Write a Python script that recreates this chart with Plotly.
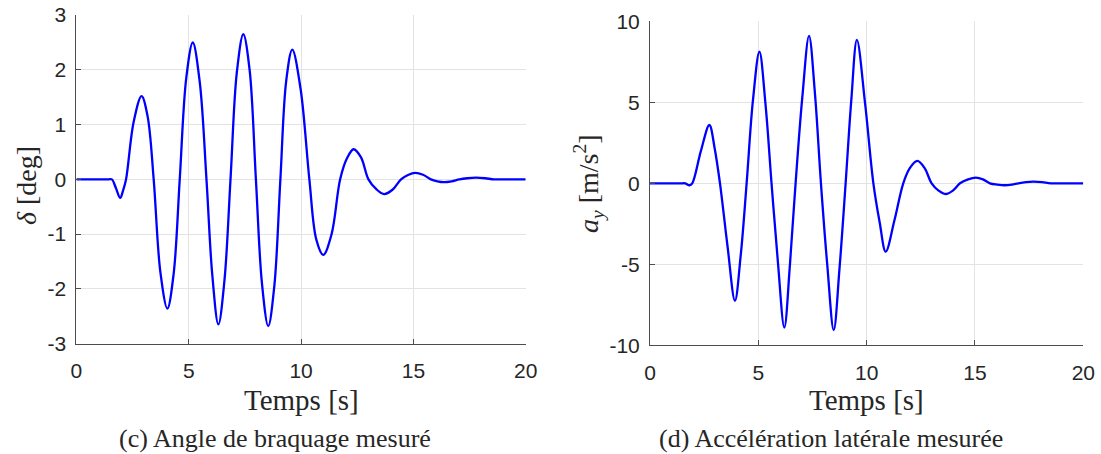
import plotly.graph_objects as go

# ---- data ----
t_delta = [0, 1.0, 1.3, 1.45, 1.58, 1.75, 1.95, 2.08, 2.21,
           2.55, 2.90, 3.17, 3.44,
           3.74, 4.05, 4.33, 4.60,
           4.89, 5.18, 5.49, 5.79,
           6.05, 6.32, 6.59, 6.86,
           7.14, 7.43, 7.71, 7.99,
           8.26, 8.54, 8.81, 9.08,
           9.34, 9.61, 9.98, 10.37,
           10.68, 10.99, 11.36, 11.74,
           12.04, 12.34, 12.67, 13.0,
           13.35, 13.70, 14.07, 14.45,
           14.76, 15.08, 15.43, 15.78,
           16.07, 16.37, 16.70, 17.05,
           17.40, 17.78, 18.20, 18.60, 19.30, 20]
delta = [0, 0, 0, 0, 0, -0.15, -0.34, -0.2, 0,
         1.05, 1.52, 1.15, 0,
         -1.7, -2.36, -1.72, 0,
         1.85, 2.50, 1.78, 0,
         -1.75, -2.65, -1.85, 0,
         1.95, 2.65, 2.0, 0,
         -1.9, -2.68, -1.95, 0,
         1.8, 2.37, 1.65, 0,
         -1.1, -1.38, -1.0, 0,
         0.38, 0.55, 0.40, 0,
         -0.18, -0.27, -0.19, 0,
         0.08, 0.12, 0.085, 0,
         -0.035, -0.05, -0.035, 0,
         0.02, 0.03, 0.02, 0, 0, 0]

t_ay = [0, 1.0, 1.3, 1.5, 1.62, 1.82, 1.95,
        2.35, 2.74, 2.98, 3.23,
        3.58, 3.92, 4.19, 4.46,
        4.75, 5.05, 5.33, 5.61,
        5.90, 6.20, 6.46, 6.72,
        7.03, 7.34, 7.61, 7.89,
        8.18, 8.48, 8.75, 9.03,
        9.29, 9.55, 9.93, 10.31,
        10.60, 10.88, 11.28, 11.69,
        12.00, 12.34, 12.67, 13.0,
        13.32, 13.64, 13.98, 14.31,
        14.68, 15.04, 15.37, 15.69,
        16.03, 16.38, 16.70, 17.0,
        17.35, 17.69, 18.10, 18.5, 19.3, 20]
ay = [0, 0, 0, 0, 0, -0.12, 0,
      2.0, 3.6, 2.2, 0,
      -3.9, -7.25, -4.4, 0,
      5.1, 8.12, 4.9, 0,
      -4.8, -8.9, -5.0, 0,
      5.3, 9.1, 5.6, 0,
      -5.0, -9.06, -5.2, 0,
      5.1, 8.85, 4.9, 0,
      -2.4, -4.22, -2.3, 0,
      0.95, 1.38, 0.95, 0,
      -0.45, -0.66, -0.45, 0,
      0.24, 0.35, 0.24, 0,
      -0.08, -0.12, -0.08, 0,
      0.07, 0.10, 0.07, 0, 0, 0]

x_ticks = [0, 5, 10, 15, 20]
y1_ticks = [-3, -2, -1, 0, 1, 2, 3]
y2_ticks = [-10, -5, 0, 5, 10]

W, H = 1101, 454
BLUE = "#0000ff"
TICKFONT = dict(family="Liberation Sans, Arial, sans-serif", size=21, color="#262626")
SERIF = "Liberation Serif, Times New Roman, serif"
TXT = "#262626"

fig = go.Figure()
fig.add_trace(go.Scatter(x=t_delta, y=delta, mode="lines", xaxis="x", yaxis="y",
                         line=dict(color=BLUE, width=2.3, shape="spline", smoothing=1.0),
                         showlegend=False))
fig.add_trace(go.Scatter(x=t_ay, y=ay, mode="lines", xaxis="x2", yaxis="y2",
                         line=dict(color=BLUE, width=2.3, shape="spline", smoothing=1.0),
                         showlegend=False))

def px_x(p):
    return p / W

def px_y(p):
    return (H - p) / H

def labels(vals):
    return [str(v) for v in vals]  # plain hyphen minus, as in the reference

axis_common = dict(showgrid=True, gridcolor="#e3e3e3", gridwidth=1, zeroline=False,
                   showline=True, linecolor="#4d4d4d", linewidth=1,
                   ticks="inside", ticklen=5, tickcolor="#4d4d4d",
                   tickfont=TICKFONT, automargin=False)

fig.update_layout(
    width=W, height=H, margin=dict(l=0, r=0, t=0, b=0),
    paper_bgcolor="white", plot_bgcolor="white",
    xaxis=dict(domain=[px_x(76.4), px_x(525.7)], range=[0, 20], tickvals=x_ticks,
               ticktext=labels(x_ticks), anchor="y", ticklabelstandoff=8, **axis_common),
    yaxis=dict(domain=[px_y(343.6), px_y(15.1)], range=[-3, 3], tickvals=y1_ticks,
               ticktext=labels(y1_ticks), anchor="x", ticklabelstandoff=5, **axis_common),
    xaxis2=dict(domain=[px_x(650), px_x(1083.3)], range=[0, 20], tickvals=x_ticks,
                ticktext=labels(x_ticks), anchor="y2", ticklabelstandoff=8, **axis_common),
    yaxis2=dict(domain=[px_y(345.3), px_y(21.3)], range=[-10, 10], tickvals=y2_ticks,
                ticktext=labels(y2_ticks), anchor="x2", ticklabelstandoff=5, **axis_common),
)

ann = [
    dict(text="Temps [s]", x=px_x(301), y=px_y(400), size=29),
    dict(text="Temps [s]", x=px_x(866.7), y=px_y(400), size=29),
    dict(text="(c) Angle de braquage mesuré", x=px_x(275), y=px_y(438), size=26),
    dict(text="(d) Accélération latérale mesurée", x=px_x(831), y=px_y(438), size=26),
]
for a in ann:
    fig.add_annotation(text=a["text"], x=a["x"], y=a["y"], xref="paper", yref="paper",
                       xanchor="center", yanchor="middle", showarrow=False,
                       font=dict(family=SERIF, size=a["size"], color=TXT))

fig.add_annotation(text="<i>δ</i> [deg]", x=px_x(27), y=px_y(186), xref="paper", yref="paper",
                   xanchor="center", yanchor="middle", showarrow=False, textangle=-90,
                   font=dict(family=SERIF, size=28, color=TXT))
fig.add_annotation(text="<i>a<sub>y</sub></i> [m/s<sup>2</sup>]", x=px_x(588), y=px_y(184),
                   xref="paper", yref="paper",
                   xanchor="center", yanchor="middle", showarrow=False, textangle=-90,
                   font=dict(family=SERIF, size=28, color=TXT))

fig.write_html("out.html", config={"displayModeBar": False},
               post_script="document.body.style.margin='0';document.body.style.padding='0';")
